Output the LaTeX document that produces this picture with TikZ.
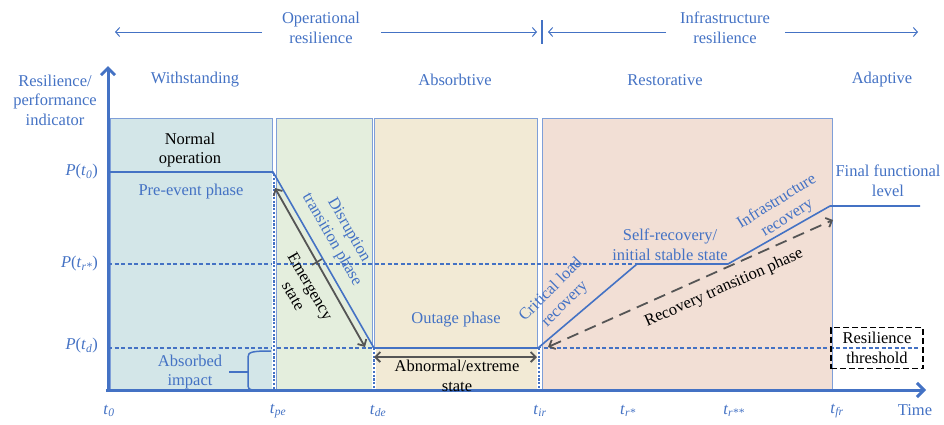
\documentclass[tikz,border=0pt]{standalone}
\usepackage{fontspec}
\setmainfont{Liberation Serif}
\usetikzlibrary{arrows.meta}
\definecolor{myblue}{HTML}{4472C4}
\definecolor{boxline}{HTML}{7F9FD8}
\definecolor{mygray}{HTML}{555555}
\definecolor{fillA}{HTML}{D3E6E8}
\definecolor{fillB}{HTML}{E4EEDD}
\definecolor{fillC}{HTML}{F2EAD5}
\definecolor{fillD}{HTML}{F2DFD5}
\newcommand\mytsub[1]{\textit{t}\textsubscript{\textit{#1}}}
\tikzset{
  txt/.style={font=\fontsize{16.5}{19.5}\selectfont, inner sep=0pt, align=center},
  txtblue/.style={txt, text=myblue},
  txtblack/.style={txt, text=black},
  phasebox/.style={draw=boxline, line width=0.9pt},
  hdrarrow/.style={draw=myblue, line width=1pt, -{Straight Barb[length=4pt,width=9pt]}},
  axisline/.style={draw=myblue, line width=3pt, -{Straight Barb[length=7pt,width=14pt,line width=3pt]}},
  perf/.style={draw=myblue, line width=1.6pt, line join=round},
  dashblue/.style={draw=myblue, line width=1.3pt, dash pattern=on 4pt off 2.5pt},
  dotwhite/.style={draw=white, line width=4pt},
  dotblue/.style={draw=myblue, line width=1.7pt, dash pattern=on 2.2pt off 1.6pt},
  grayarrow/.style={draw=mygray, line width=1.8pt, {Straight Barb[length=5pt,width=10pt]}-{Straight Barb[length=5pt,width=10pt]}},
  graydash/.style={draw=mygray, line width=1.8pt, dash pattern=on 12pt off 7pt, {Straight Barb[length=5pt,width=10pt]}-{Straight Barb[length=5pt,width=10pt]}},
}
\begin{document}
\begin{tikzpicture}[x=1pt,y=-1pt]
\useasboundingbox (0,0) rectangle (944,424);

% phase boxes
\fill[fillA] (110,118) rectangle (272,390);
\fill[fillB] (276,118) rectangle (372,390);
\fill[fillC] (374,118) rectangle (537,390);
\fill[fillD] (542,118) rectangle (832,390);
\draw[phasebox] (110,118) rectangle (272,390);
\draw[phasebox] (276,118) rectangle (372,390);
\draw[phasebox] (374,118) rectangle (537,390);
\draw[phasebox] (542,118) rectangle (832,390);

% header
\node[txtblue] (lblOp) at (321,28) {Operational\\resilience};
\node[txtblue] (lblInf) at (725,28) {Infrastructure\\resilience};
\coordinate (opA) at (262,32);
\coordinate (opL) at (115,32);
\coordinate (opB) at (381,32);
\coordinate (opR) at (537,32);
\coordinate (infA) at (666,32);
\coordinate (infL) at (548,32);
\coordinate (infB) at (785,32);
\coordinate (infR) at (918,32);
\coordinate (tickT) at (542,20);
\coordinate (tickB) at (542,44);
\draw[hdrarrow] (opA) -- (opL);
\draw[hdrarrow] (opB) -- (opR);
\draw[hdrarrow] (infA) -- (infL);
\draw[hdrarrow] (infB) -- (infR);
\draw[myblue, line width=1.2pt] (tickT) -- (tickB);

% column titles
\node[txtblue] (lblRes) at (55,100) {Resilience/\\performance\\indicator};
\node[txtblue] (lblW) at (195,80) {Withstanding};
\node[txtblue] (lblAbs) at (455,80) {Absorbtive};
\node[txtblue] (lblRest) at (665,80) {Restorative};
\node[txtblue] (lblAd) at (882,80) {Adaptive};

% dashed level lines
\coordinate (yA) at (108,264);
\coordinate (yB) at (108,348);
\coordinate (p0) at (108,172);
\coordinate (p1) at (273,172);
\coordinate (p2) at (374,348);
\coordinate (p3) at (538,348);
\coordinate (p4) at (637,264);
\coordinate (p5) at (728,264);
\coordinate (p6) at (830,206);
\coordinate (p7) at (920,206);
\coordinate (thrEnd) at (920,348);
\draw[dashblue] (yA) -- (p4);
\draw[dashblue] (yB) -- (thrEnd);

% vertical dotted lines
\coordinate (vpeB) at (274,390);
\coordinate (vdeB) at (374,390);
\coordinate (virT) at (539,348);
\coordinate (virB) at (539,390);
\coordinate (vpeT) at (274,174);
\draw[dotwhite] (vpeT) -- (vpeB);
\draw[dotblue] (vpeT) -- (vpeB);
\draw[dotwhite] (p2) -- (vdeB);
\draw[dotblue] (p2) -- (vdeB);
\draw[dotwhite] (virT) -- (virB);
\draw[dotblue] (virT) -- (virB);

% performance curve
\draw[perf] (p0) -- (p1) -- (p2) -- (p3) -- (p4) -- (p5) -- (p6) -- (p7);

% axes
\coordinate (origin) at (108,392);
\coordinate (ytip) at (108,66);
\coordinate (xorg) at (106,390);
\coordinate (xtip) at (926,390);
\draw[axisline] (origin) -- (ytip);
\draw[axisline] (xorg) -- (xtip);

% y labels
\node[txtblue, anchor=east] (P0) at (98,172) {\textit{P}(\mytsub{0})};
\node[txtblue, anchor=east] (Pr) at (98,264) {\textit{P}(\mytsub{r*})};
\node[txtblue, anchor=east] (Pd) at (98,346) {\textit{P}(\mytsub{d})};

% x labels
\node[txtblue] (t0) at (109,411) {\mytsub{0}};
\node[txtblue] (tpe) at (278,411) {\mytsub{pe}};
\node[txtblue] (tde) at (378,411) {\mytsub{de}};
\node[txtblue] (tir) at (540,411) {\mytsub{ir}};
\node[txtblue] (trs) at (628,411) {\mytsub{r*}};
\node[txtblue] (trss) at (734,411) {\mytsub{r**}};
\node[txtblue] (tfr) at (837,411) {\mytsub{fr}};
\node[txtblue] (time) at (915,410) {Time};

% phase texts
\node[txtblack] (normal) at (190,150) {Normal\\operation};
\node[txtblue] (pre) at (191,192) {Pre-event phase};
\node[txtblue] (absorbed) at (190,372) {Absorbed\\impact};
\coordinate (brT) at (271,351);
\coordinate (brB) at (271,391);
\coordinate (brM) at (248,372);
\coordinate (brTip) at (229,372);
\draw[myblue, line width=1.5pt] (brT) .. controls (252,351) and (248,352) .. (248,357) -- (248,386) .. controls (248,390) and (252,391) .. (brB);
\draw[myblue, line width=1.5pt] (brM) -- (brTip);

\node[txtblue, rotate=-60] (disr) at (340,235) {Disruption\\transition phase};
\coordinate (emT) at (275,188);
\coordinate (emB) at (365,347);
\draw[grayarrow] (emT) -- (emB);
\coordinate (crA) at (312,265);
\coordinate (crB) at (322,259);
\draw[mygray, line width=1.6pt] (crA) -- (crB);
\node[txtblack, rotate=-60] (emerg) at (302,291) {Emergency\\state};

\node[txtblue] (outage) at (456,320) {Outage phase};
\coordinate (abL) at (374,357);
\coordinate (abR) at (537,357);
\draw[grayarrow] (abL) -- (abR);
\node[txtblack] (abn) at (457,376) {Abnormal/extreme\\state};

\node[txtblue, rotate=45] (crit) at (558,297) {Critical load\\recovery};
\node[txtblue] (self) at (670,245) {Self-recovery/\\initial stable state};
\node[txtblue, rotate=32] (infrec) at (782,210) {Infrastructure\\recovery};
\coordinate (rtL) at (548,347);
\coordinate (rtR) at (833,220);
\draw[graydash] (rtL) -- (rtR);
\node[txtblack, rotate=24] (rtp) at (724,288) {Recovery transition phase};

\node[txtblue] (final) at (888,181) {Final functional\\level};
\node[txtblack, draw=black, line width=1.2pt, dash pattern=on 6pt off 3pt, minimum width=92pt, minimum height=41pt] (thr) at (877,348) {Resilience\\threshold};
\end{tikzpicture}
\end{document}
